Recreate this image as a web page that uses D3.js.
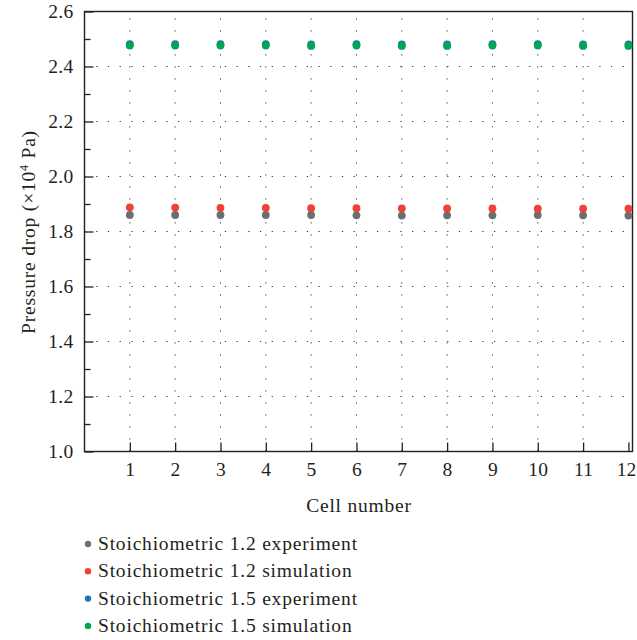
<!DOCTYPE html>
<html><head><meta charset="utf-8">
<script src="https://cdn.jsdelivr.net/npm/d3@7"></script>
<style>body{margin:0;background:#fff}svg{display:block}text{font-family:"Liberation Serif","DejaVu Serif",serif;fill:#231f20}</style>
</head><body><svg id="c" width="637" height="640"></svg>
<script>
const cells = [1,2,3,4,5,6,7,8,9,10,11,12];
const exp12 = [1.860,1.860,1.860,1.860,1.860,1.859,1.858,1.859,1.859,1.860,1.859,1.858];
const sim12 = [1.888,1.887,1.886,1.886,1.885,1.885,1.884,1.884,1.884,1.883,1.883,1.883];
const exp15 = [2.481,2.481,2.481,2.481,2.480,2.481,2.480,2.480,2.481,2.481,2.480,2.480];
const sim15 = [2.476,2.476,2.476,2.476,2.475,2.476,2.475,2.475,2.476,2.476,2.475,2.475];
const yTicks = [1.0,1.2,1.4,1.6,1.8,2.0,2.2,2.4,2.6];
const seriesNames = ["Stoichiometric 1.2 experiment","Stoichiometric 1.2 simulation","Stoichiometric 1.5 experiment","Stoichiometric 1.5 simulation"];
const colors = ["#6d6e71","#ef4136","#1c75bc","#00a651"];
const seriesData = [exp12, sim12, exp15, sim15];

const FS = "19.5px", LS = "0.8px";
const svg = d3.select("#c");
const L=84.5, R=632.5, T=11.5, B=451.5;
const x = d3.scaleLinear().domain([0,12.09]).range([L,R]);
const y = d3.scaleLinear().domain([1.0,2.6]).range([B,T]);

// grid
const g = svg.append("g");
g.selectAll("line.hg").data(yTicks.slice(1,-1)).join("line")
  .attr("x1",L).attr("x2",R).attr("y1",d=>y(d)).attr("y2",d=>y(d))
  .attr("stroke","#333").attr("stroke-width",1).attr("stroke-dasharray","1.2,10.5");
g.selectAll("line.vg").data(cells.slice(0,-1)).join("line")
  .attr("y1",B).attr("y2",T).attr("x1",d=>x(d)).attr("x2",d=>x(d))
  .attr("stroke","#333").attr("stroke-width",1).attr("stroke-dasharray","1.2,10.8");

// axes
const yAxis = d3.axisLeft(y).tickValues(yTicks).tickFormat(d3.format(".1f")).tickSizeInner(-9).tickSizeOuter(0).tickPadding(11);
const ya = svg.append("g").attr("transform",`translate(${L},0)`).call(yAxis);
const yMinor = d3.axisLeft(y).tickValues(d3.range(1.1,2.6,0.2)).tickFormat("").tickSizeInner(-6).tickSizeOuter(0);
const ym = svg.append("g").attr("transform",`translate(${L},0)`).call(yMinor);
const xAxis = d3.axisBottom(x).tickValues(cells).tickFormat(d3.format("d")).tickSizeInner(-9).tickSizeOuter(0).tickPadding(11);
const xa = svg.append("g").attr("transform",`translate(0,${B})`).call(xAxis);
[ya,ym,xa].forEach(a=>{a.select(".domain").remove();a.selectAll("line").attr("stroke","#231f20").attr("stroke-width",1.3);
  a.selectAll("text").style("font-family",'"Liberation Serif",serif').style("font-size",FS).style("letter-spacing","0.3px").attr("fill","#231f20");});
xa.selectAll(".tick text").filter(d=>d===12).attr("dx",-2.5).style("letter-spacing","0px");

// frame
svg.append("rect").attr("x",L).attr("y",T).attr("width",R-L).attr("height",B-T)
  .attr("fill","none").attr("stroke","#231f20").attr("stroke-width",1.4);

// points
seriesData.forEach((s,i)=>{
  svg.append("g").selectAll("circle").data(s).join("circle")
    .attr("cx",(d,j)=>x(cells[j])).attr("cy",d=>y(d)).attr("r",3.9).attr("fill",colors[i]);
});

// titles
svg.append("text").attr("x",359).attr("y",512).attr("text-anchor","middle").style("font-size",FS).style("letter-spacing",LS).text("Cell number");
const yt = svg.append("text").attr("transform","translate(35,232) rotate(-90)").attr("text-anchor","middle").style("font-size",FS).style("letter-spacing",LS);
yt.append("tspan").text("Pressure drop (\u00d710");
yt.append("tspan").attr("dy",-7).style("font-size","12px").text("4");
yt.append("tspan").attr("dy",7).text(" Pa)");

// legend
const lg = svg.append("g");
seriesNames.forEach((n,i)=>{
  const yy = 544 + i*27.3;
  lg.append("circle").attr("cx",88).attr("cy",yy).attr("r",3.2).attr("fill",colors[i]);
  lg.append("text").attr("x",98).attr("y",yy+6).style("font-size",FS).style("letter-spacing",LS).text(n);
});
</script></body></html>
